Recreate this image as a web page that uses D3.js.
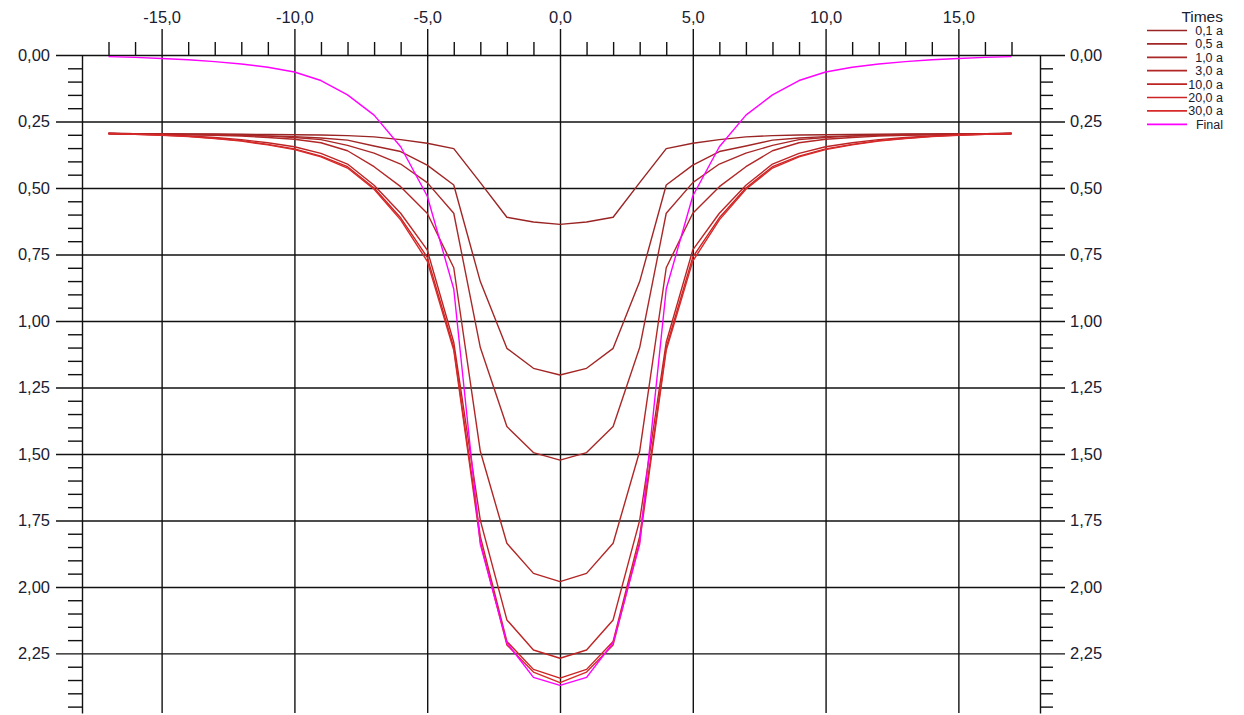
<!DOCTYPE html>
<meta charset="utf-8">
<style>
body { margin: 0; background: #fff; }
svg { font-family: "Liberation Sans", Arial, sans-serif; }
.grid line { stroke: #111; stroke-width: 1.4; }
.minor line, .minor path { stroke: #111; stroke-width: 1.4; }
.lbl text { fill: #1a2030; font-size: 16.5px; }
.series { fill: none; stroke-linejoin: round; }
</style>
<body>
<script src="https://d3js.org/d3.v7.min.js"></script>
<script>
var width = 1244
var height = 715

// x positions of the profile (same for every series)
var offsets = [-17,-16,-15,-14,-13,-12,-11,-10,-9,-8,-7,-6,-5,-4,-3,-2,-1,0,1,2,3,4,5,6,7,8,9,10,11,12,13,14,15,16,17]

var times = ['0,1 a', '0,5 a', '1,0 a', '3,0 a', '10,0 a', '20,0 a', '30,0 a', 'Final']

var t01 = [.295,.296,.296,.297,.297,.298,.299,.300,.301,.303,.308,.318,.332,.352,.480,.610,.628,.637,.628,.610,.480,.352,.332,.318,.308,.303,.301,.300,.299,.298,.297,.297,.296,.296,.295]
var t05 = [.295,.296,.297,.298,.299,.301,.304,.307,.312,.320,.342,.363,.414,.489,.852,1.103,1.178,1.203,1.178,1.103,.852,.489,.414,.363,.342,.320,.312,.307,.304,.301,.299,.298,.297,.296,.295]
var t1 = [.295,.296,.297,.299,.300,.302,.305,.310,.318,.340,.369,.410,.480,.595,1.100,1.397,1.495,1.523,1.495,1.397,1.100,.595,.480,.410,.369,.340,.318,.310,.305,.302,.300,.299,.297,.296,.295]
var t3 = [.295,.297,.298,.300,.302,.305,.310,.317,.330,.360,.420,.495,.595,.800,1.490,1.836,1.949,1.980,1.949,1.836,1.490,.800,.595,.495,.420,.360,.330,.317,.310,.305,.302,.300,.298,.297,.295]
var t10 = [.295,.297,.300,.304,.310,.318,.330,.345,.370,.410,.490,.595,.733,1.080,1.750,2.124,2.237,2.268,2.237,2.124,1.750,1.080,.733,.595,.490,.410,.370,.345,.330,.318,.310,.304,.300,.297,.295]
var t20 = [.295,.298,.301,.306,.313,.322,.336,.353,.380,.420,.500,.612,.760,1.100,1.810,2.205,2.310,2.343,2.310,2.205,1.810,1.100,.760,.612,.500,.420,.380,.353,.336,.322,.313,.306,.301,.298,.295]
var t30 = [.295,.298,.302,.307,.314,.324,.338,.356,.383,.425,.505,.620,.775,1.110,1.830,2.218,2.320,2.360,2.320,2.218,1.830,1.110,.775,.620,.505,.425,.383,.356,.338,.324,.314,.307,.302,.298,.295]
var tFinal = [.006,.009,.013,.018,.025,.034,.046,.064,.096,.150,.226,.345,.530,.880,1.840,2.210,2.340,2.370,2.340,2.210,1.840,.880,.530,.345,.226,.150,.096,.064,.046,.034,.025,.018,.013,.009,.006]

var xMajorTicks = [-15,-10,-5,0,5,10,15]
var xMinorTicks = [-17,-16,-14,-13,-12,-11,-9,-8,-7,-6,-4,-3,-2,-1,1,2,3,4,6,7,8,9,11,12,13,14,16,17]
var yMajorTicks = [0,0.25,0.5,0.75,1,1.25,1.5,1.75,2,2.25]
var yMinorTicks = [0.05,0.1,0.15,0.2,0.3,0.35,0.4,0.45,0.55,0.6,0.65,0.7,0.8,0.85,0.9,0.95,1.05,1.1,1.15,1.2,1.3,1.35,1.4,1.45,1.55,1.6,1.65,1.7,1.8,1.85,1.9,1.95,2.05,2.1,2.15,2.2,2.3,2.35,2.4,2.45]

var colors = ['#9a2424', '#a22626', '#aa2828', '#b22626', '#be2424', '#cc2424', '#d82a2a', '#ff00ff']
var series = [t01, t05, t1, t3, t10, t20, t30, tFinal]

var loc = d3.formatLocale({ decimal: ',', thousands: '.', grouping: [3], currency: ['', ''], minus: '-' })
var fx = loc.format('.1f')
var fy = loc.format('.2f')

var x = d3.scaleLinear().domain([-17, 17]).range([108.5, 1011.5])
var y = d3.scaleLinear().domain([0, 2.474]).range([55, 713])

var svg = d3.select('body').append('svg')
    .attr('width', width)
    .attr('height', height)

// vertical grid + top labels
svg.append('g')
    .attr('class', 'grid lbl')
    .attr('transform', 'translate(0,29)')
    .call(d3.axisTop(x).tickValues(xMajorTicks).tickFormat(fx).tickSize(-684).tickPadding(6))
    .call(function (g) { g.select('.domain').remove() })

// horizontal grid + left labels
svg.append('g')
    .attr('class', 'grid lbl')
    .attr('transform', 'translate(56,0)')
    .call(d3.axisLeft(y).tickValues(yMajorTicks).tickFormat(fy).tickSize(-1009).tickPadding(6))
    .call(function (g) { g.select('.domain').remove() })

// right labels
svg.append('g')
    .attr('class', 'lbl')
    .attr('transform', 'translate(1065,0)')
    .call(d3.axisRight(y).tickValues(yMajorTicks).tickFormat(fy).tickSize(0).tickPadding(5))
    .call(function (g) { g.select('.domain').remove() })

// top minor ticks
svg.append('g')
    .attr('class', 'minor')
    .attr('transform', 'translate(0,55)')
    .call(d3.axisTop(x).tickValues(xMinorTicks).tickFormat('').tickSize(13))
    .call(function (g) { g.select('.domain').remove() })

// left axis with minor ticks
svg.append('g')
    .attr('class', 'minor')
    .attr('transform', 'translate(82,0)')
    .call(d3.axisLeft(y).tickValues(yMinorTicks).tickFormat('').tickSize(14).tickSizeOuter(0))

// right axis with minor ticks
svg.append('g')
    .attr('class', 'minor')
    .attr('transform', 'translate(1040,0)')
    .call(d3.axisRight(y).tickValues(yMinorTicks).tickFormat('').tickSize(13).tickSizeOuter(0))

var line = d3.line()
    .x(function (d, i) { return x(offsets[i]) })
    .y(function (d) { return y(d) })

svg.append('g')
    .selectAll('path')
    .data(series)
    .enter().append('path')
    .attr('class', 'series')
    .attr('stroke', function (d, i) { return colors[i] })
    .attr('stroke-width', 1.4)
    .attr('d', line)

// legend
var legend = svg.append('g').attr('transform', 'translate(1223,0)')

legend.append('text')
    .attr('x', 0).attr('y', 22)
    .attr('text-anchor', 'end')
    .attr('font-size', 15.5)
    .attr('fill', '#1a2030')
    .text('Times')

var entries = legend.selectAll('.entry')
    .data(times)
    .enter().append('g')
    .attr('class', 'entry')
    .attr('transform', function (d, i) { return 'translate(0,' + (30.5 + i * 13.4) + ')' })

entries.append('line')
    .attr('x1', -76).attr('x2', -36)
    .attr('stroke', function (d, i) { return colors[i] })
    .attr('stroke-width', 1.7)

entries.append('text')
    .attr('x', 0).attr('y', 4.5)
    .attr('text-anchor', 'end')
    .attr('font-size', 12.5)
    .attr('fill', '#1a2030')
    .text(function (d) { return d })
</script>
</body>
